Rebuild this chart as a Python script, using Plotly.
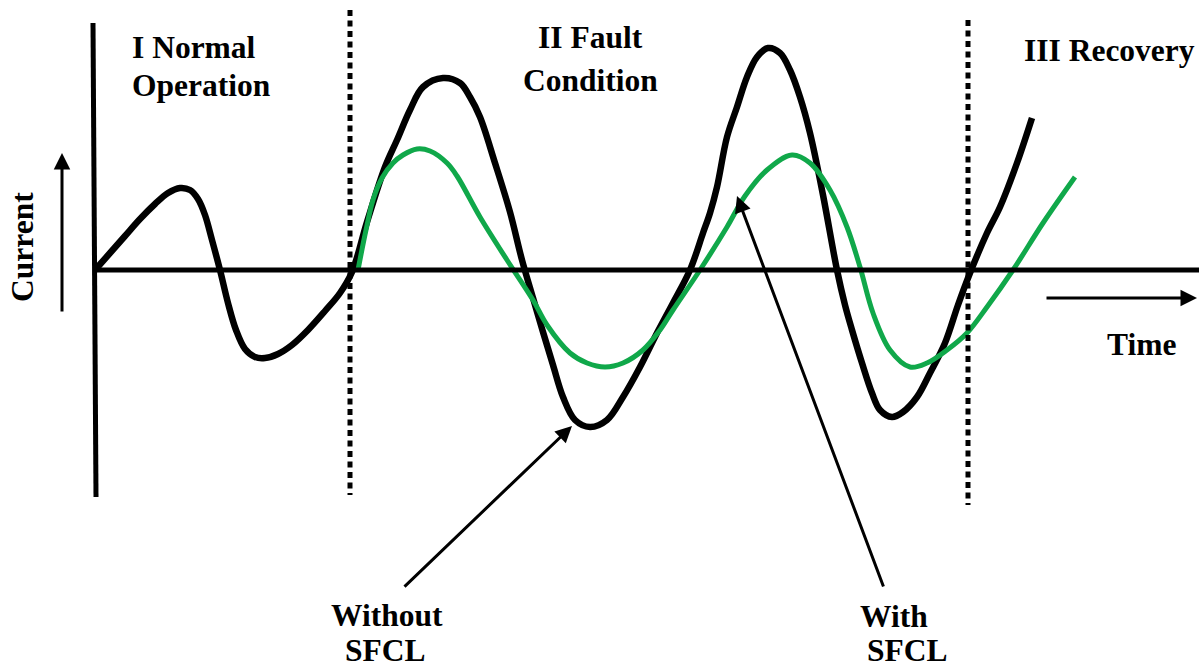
import plotly.graph_objects as go

# Curve "Without SFCL" (black), read in picture pixel units (x: time, y: current, downwards)
black_x = [95, 110, 125, 140, 155, 168, 180, 190, 198, 205, 212, 220, 228, 236, 245, 255, 265, 278, 292, 308, 325, 340, 352,
           367, 385, 397, 410, 423, 443, 460, 470, 480, 495, 510, 522, 533, 543, 553, 563, 575, 590, 607, 623, 640, 657,
           673, 690, 703, 710, 717, 727, 737, 747, 757, 768, 780, 790, 800, 810, 823, 837, 845, 852, 862, 872, 880, 892,
           903, 917, 930, 945, 958, 970, 987, 1000, 1017, 1032]
black_y = [270, 253, 236, 219, 204, 193, 188, 190, 199, 215, 240, 270, 303, 330, 349, 357, 358, 354, 345, 330, 311, 293, 272,
           222, 167, 140, 110, 87, 78, 83, 97, 117, 163, 212, 260, 298, 332, 365, 397, 420, 427, 420, 397, 367, 333,
           303, 270, 233, 213, 187, 137, 107, 77, 57, 48, 53, 70, 97, 133, 195, 270, 305, 330, 363, 393, 410, 417,
           412, 397, 373, 343, 305, 273, 233, 207, 163, 118]

# Curve "With SFCL" (green)
green_x = [358, 366, 373, 382, 393, 403, 417, 430, 447, 457, 480, 507, 533, 547, 570, 587, 605, 623, 643, 660, 673,
           700, 727, 745, 767, 792, 810, 830, 847, 860, 873, 890, 910, 927, 947, 967, 987, 1013, 1043, 1075]
green_y = [270, 230, 200, 178, 163, 155, 149, 151, 163, 176, 217, 260, 300, 325, 353, 363, 367, 363, 350, 330, 310,
           270, 227, 196, 170, 155, 163, 190, 227, 267, 313, 350, 367, 363, 350, 333, 307, 270, 223, 177]

# Phase boundaries and labels
phase_x = [350, 968]
phase_labels = [["I Normal", "Operation"], ["II Fault", "Condition"], ["III Recovery"]]

FONT = "Liberation Serif, Times New Roman, serif"
FS = 31.5
fig = go.Figure()

fig.add_trace(go.Scatter(x=black_x, y=black_y, mode="lines",
                         line=dict(color="black", width=6.5, shape="spline", smoothing=1.0),
                         hoverinfo="skip", showlegend=False))
fig.add_trace(go.Scatter(x=green_x, y=green_y, mode="lines",
                         line=dict(color="#10a84a", width=5, shape="spline", smoothing=1.0),
                         hoverinfo="skip", showlegend=False))

# axes
fig.add_shape(type="line", x0=93, y0=23, x1=96, y1=497, line=dict(color="black", width=5))
fig.add_shape(type="line", x0=95, y0=270, x1=1199, y1=270, line=dict(color="black", width=5))

# phase dividers
fig.add_shape(type="line", x0=phase_x[0], y0=10, x1=phase_x[0], y1=495,
              line=dict(color="black", width=5, dash="6px,4.5px"))
fig.add_shape(type="line", x0=phase_x[1], y0=20, x1=phase_x[1], y1=505,
              line=dict(color="black", width=5, dash="6px,4.5px"))

def txt(x, y, s, xanchor="center"):
    fig.add_annotation(x=x, y=y, text="<b>%s</b>" % s, showarrow=False, xanchor=xanchor,
                       yanchor="middle", font=dict(family=FONT, size=FS, color="black"))

OFF = 13
txt(130, 60 - OFF, phase_labels[0][0], "left")
txt(130, 98 - OFF, phase_labels[0][1], "left")
txt(590, 50 - OFF, phase_labels[1][0])
txt(590, 93 - OFF, phase_labels[1][1])
txt(1109, 63 - OFF, phase_labels[2][0])
txt(1141, 357 - OFF, "Time")
txt(387, 628 - OFF, "Without")
txt(385, 663 - OFF, "SFCL")
txt(894, 629 - OFF, "With")
txt(907, 663 - OFF, "SFCL")

fig.add_annotation(x=22, y=247, text="<b>Current</b>", showarrow=False, textangle=-90,
                   font=dict(family=FONT, size=FS, color="black"))

def arrow(x0, y0, x1, y1, w=3):
    fig.add_annotation(x=x1, y=y1, ax=x0, ay=y0, xref="x", yref="y", axref="x", ayref="y",
                       text="", showarrow=True, arrowhead=2, arrowsize=1.1, arrowwidth=w,
                       arrowcolor="black")

arrow(62, 313, 62, 153)
arrow(1045, 298, 1197, 298)
arrow(403, 588, 572, 426)
arrow(884, 588, 737, 196)

fig.update_xaxes(range=[0, 1199], visible=False, fixedrange=True)
fig.update_yaxes(range=[671, 0], visible=False, fixedrange=True)
fig.update_layout(width=1199, height=671, margin=dict(l=0, r=0, t=0, b=0),
                  plot_bgcolor="white", paper_bgcolor="white")

fig.write_html("out.html", config={"displayModeBar": False},
               post_script="document.body.style.margin='0';document.body.style.overflow='hidden';")
